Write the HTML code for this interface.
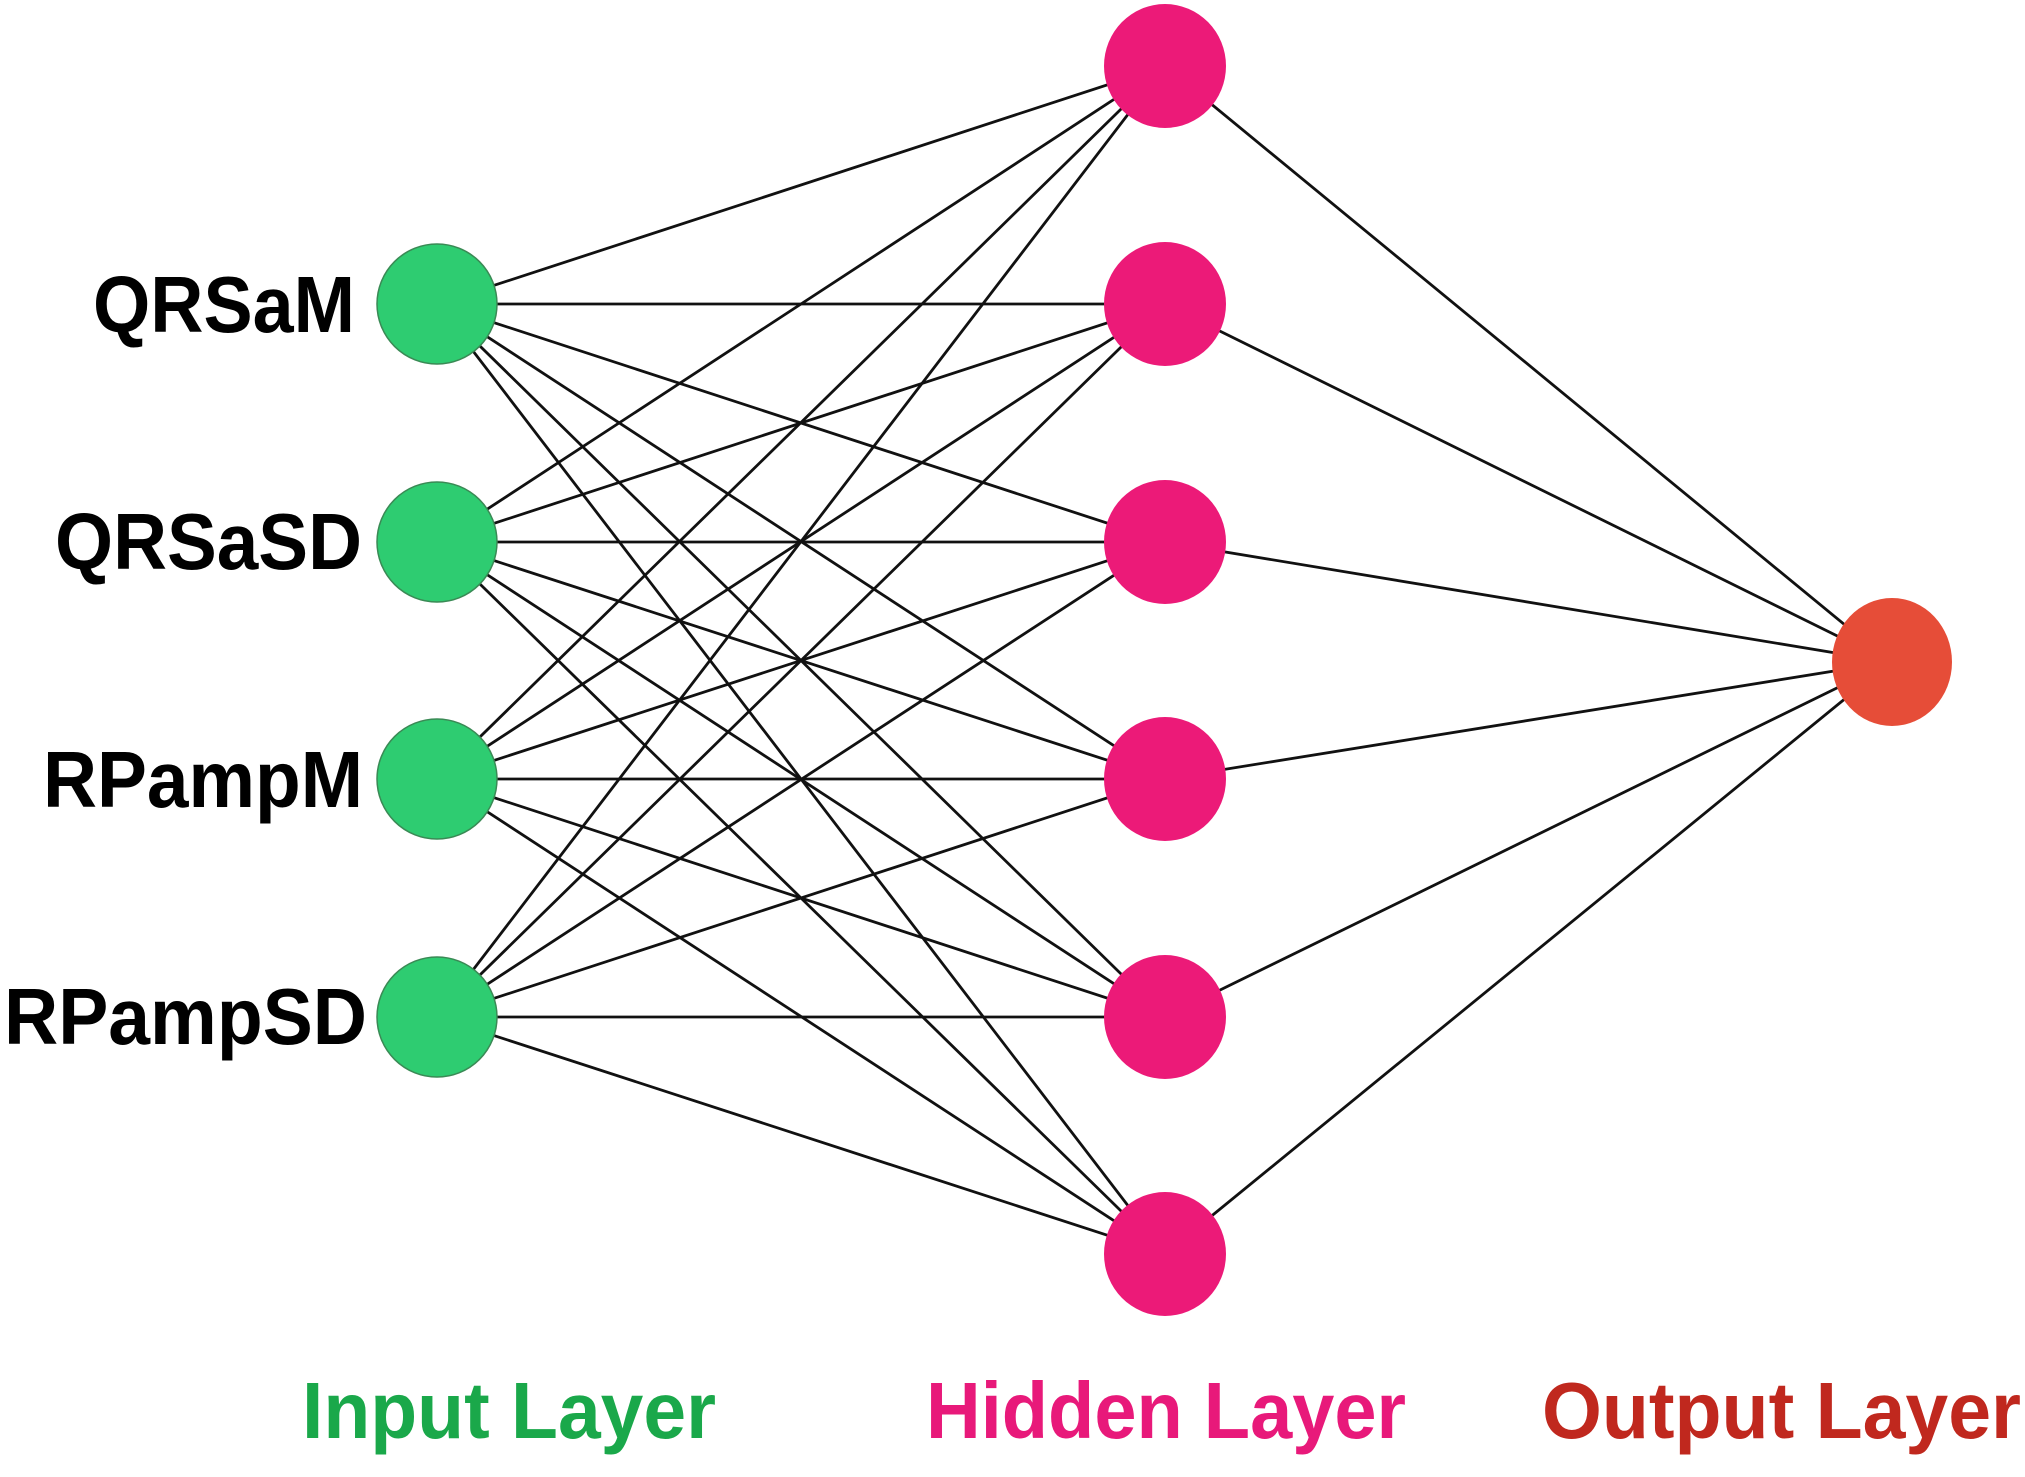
<!DOCTYPE html>
<html><head><style>
html,body{margin:0;padding:0;background:#fff;width:2025px;height:1477px;overflow:hidden}
svg{display:block}
text{font-family:"Liberation Sans",Arial,sans-serif;font-weight:bold}
</style></head><body>
<svg width="2025" height="1477" viewBox="0 0 2025 1477" xmlns="http://www.w3.org/2000/svg">
<g stroke="#111" stroke-width="2.8">
<line x1="437" y1="304" x2="1165" y2="66"/><line x1="437" y1="304" x2="1165" y2="304"/><line x1="437" y1="304" x2="1165" y2="542"/><line x1="437" y1="304" x2="1165" y2="779"/><line x1="437" y1="304" x2="1165" y2="1017"/><line x1="437" y1="304" x2="1165" y2="1254"/>
<line x1="437" y1="542" x2="1165" y2="66"/><line x1="437" y1="542" x2="1165" y2="304"/><line x1="437" y1="542" x2="1165" y2="542"/><line x1="437" y1="542" x2="1165" y2="779"/><line x1="437" y1="542" x2="1165" y2="1017"/><line x1="437" y1="542" x2="1165" y2="1254"/>
<line x1="437" y1="779" x2="1165" y2="66"/><line x1="437" y1="779" x2="1165" y2="304"/><line x1="437" y1="779" x2="1165" y2="542"/><line x1="437" y1="779" x2="1165" y2="779"/><line x1="437" y1="779" x2="1165" y2="1017"/><line x1="437" y1="779" x2="1165" y2="1254"/>
<line x1="437" y1="1017" x2="1165" y2="66"/><line x1="437" y1="1017" x2="1165" y2="304"/><line x1="437" y1="1017" x2="1165" y2="542"/><line x1="437" y1="1017" x2="1165" y2="779"/><line x1="437" y1="1017" x2="1165" y2="1017"/><line x1="437" y1="1017" x2="1165" y2="1254"/>
<line x1="1165" y1="66" x2="1890" y2="662"/><line x1="1165" y1="304" x2="1890" y2="662"/><line x1="1165" y1="542" x2="1890" y2="662"/><line x1="1165" y1="779" x2="1890" y2="662"/><line x1="1165" y1="1017" x2="1890" y2="662"/><line x1="1165" y1="1254" x2="1890" y2="662"/>
</g>
<g fill="#2ecc71" stroke="#3a8a55" stroke-width="1.5">
<circle cx="437" cy="304" r="60"/><circle cx="437" cy="542" r="60"/><circle cx="437" cy="779" r="60"/><circle cx="437" cy="1017" r="60"/>
</g>
<g fill="#ec1a78">
<ellipse cx="1165" cy="66" rx="61" ry="62"/><ellipse cx="1165" cy="304" rx="61" ry="62"/><ellipse cx="1165" cy="542" rx="61" ry="62"/><ellipse cx="1165" cy="779" rx="61" ry="62"/><ellipse cx="1165" cy="1017" rx="61" ry="62"/><ellipse cx="1165" cy="1254" rx="61" ry="62"/>
</g>
<ellipse cx="1892" cy="662" rx="60" ry="64" fill="#e64d38"/>
<g fill="#000" font-size="80">
<text x="93" y="332" textLength="262" lengthAdjust="spacingAndGlyphs">QRSaM</text>
<text x="55" y="569" textLength="307" lengthAdjust="spacingAndGlyphs">QRSaSD</text>
<text x="43" y="807" textLength="320" lengthAdjust="spacingAndGlyphs">RPampM</text>
<text x="4" y="1044" textLength="363" lengthAdjust="spacingAndGlyphs">RPampSD</text>
</g>
<g font-size="80">
<text x="302" y="1438" fill="#1aa84a" textLength="414" lengthAdjust="spacingAndGlyphs">Input Layer</text>
<text x="926" y="1438" fill="#e8197a" textLength="480" lengthAdjust="spacingAndGlyphs">Hidden Layer</text>
<text x="1542" y="1438" fill="#c0281e" textLength="479" lengthAdjust="spacingAndGlyphs">Output Layer</text>
</g>
</svg>
</body></html>
